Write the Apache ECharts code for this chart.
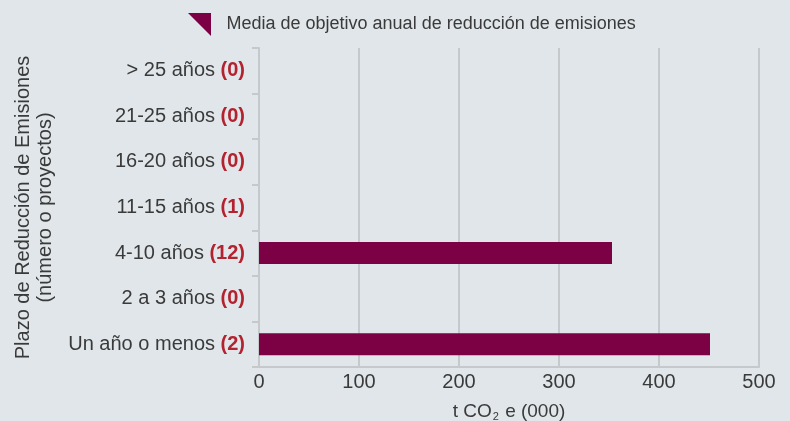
<!DOCTYPE html>
<html>
<head>
<meta charset="utf-8">
<script src="https://cdn.jsdelivr.net/npm/echarts@6/dist/echarts.min.js"></script>
<style>
  html, body { margin: 0; padding: 0; background: #e0e6e9; }
  #chart { width: 790px; height: 421px; }
</style>
</head>
<body>
<div id="chart"></div>
<script>
// Emission-reduction horizon categories, listed bottom to top
const periods = ['Un año o menos', '2 a 3 años', '4-10 años', '11-15 años', '16-20 años', '21-25 años', '> 25 años'];
// Number of projects in each horizon
const projectCounts = [2, 0, 12, 1, 0, 0, 0];
// Average annual reduction target, t CO2 e (thousands)
const annualTarget = [451, 0, 353, 0, 0, 0, 0];
const seriesName = 'Media de objetivo anual de reducción de emisiones';
const xTicks = { min: 0, max: 500, interval: 100 };

const FONT = '"Liberation Sans", Arial, sans-serif';
const TEXT = '#3a3a3a';
const LINE = '#c5c9cc';
const chart = echarts.init(document.getElementById('chart'));

chart.setOption({
  backgroundColor: '#e0e6e9',
  textStyle: { fontFamily: FONT },
  legend: {
    top: 8,
    left: 183,
    itemWidth: 24,
    itemHeight: 23,
    icon: 'path://M0,0 L10,0 L10,10 Z',
    textStyle: { fontSize: 18, color: TEXT, fontFamily: FONT, padding: [0, 0, 0, 10] },
    data: [seriesName]
  },
  grid: { left: 259, right: 31, top: 48, bottom: 54, containLabel: false, outerBoundsMode: 'none' },
  xAxis: {
    type: 'value',
    min: xTicks.min,
    max: xTicks.max,
    interval: xTicks.interval,
    name: '{t|t CO}{s|2}{t| e (000)}',
    nameLocation: 'middle',
    nameGap: 34,
    nameTextStyle: {
      rich: {
        t: { fontSize: 19, color: TEXT, fontFamily: FONT },
        s: { fontSize: 11, color: TEXT, fontFamily: FONT, padding: [10, 1, 0, 1] }
      }
    },
    axisLine: { show: true, lineStyle: { color: LINE, width: 2 } },
    axisTick: { show: false },
    axisLabel: { fontSize: 20, color: TEXT, margin: 5, fontFamily: FONT },
    splitLine: { show: true, lineStyle: { color: LINE, width: 2 } }
  },
  yAxis: {
    type: 'category',
    data: periods,
    name: 'Plazo de Reducción de Emisiones\n(número o proyectos)',
    nameLocation: 'middle',
    nameGap: 203,
    nameRotate: 90,
    nameTextStyle: { fontSize: 20, color: TEXT, lineHeight: 22, fontFamily: FONT },
    axisLine: { show: true, lineStyle: { color: LINE, width: 2 } },
    axisTick: { show: true, length: 7, lineStyle: { color: LINE, width: 2 } },
    axisLabel: {
      margin: 14,
      formatter: function (v, i) {
        return '{n|' + v + ' }{c|(' + projectCounts[i] + ')}';
      },
      rich: {
        n: { fontSize: 20, color: TEXT, fontFamily: FONT },
        c: { fontSize: 20, color: '#b3222f', fontWeight: 'bold', fontFamily: FONT }
      }
    },
    splitLine: { show: false }
  },
  series: [{
    name: seriesName,
    type: 'bar',
    data: annualTarget,
    barWidth: 22,
    itemStyle: { color: '#7c0044' }
  }]
});
</script>
</body>
</html>
